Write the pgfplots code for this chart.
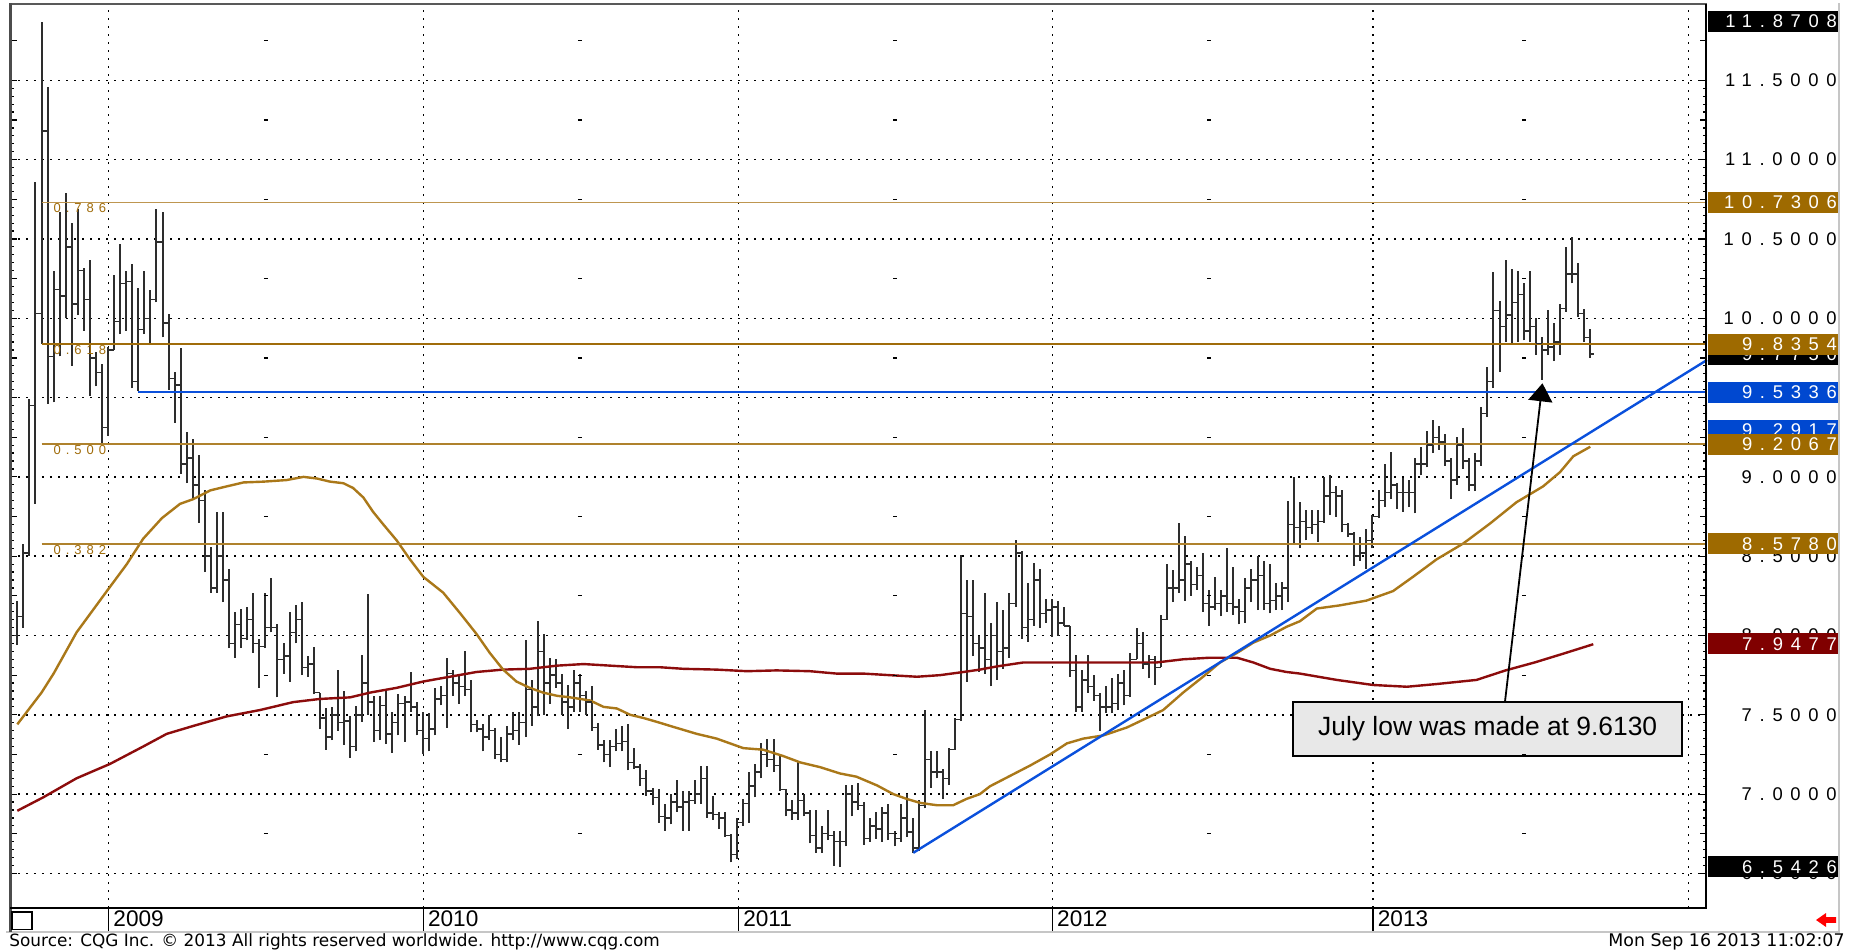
\documentclass[border=0pt]{standalone}
\usepackage{pgfplots}
\pgfplotsset{compat=1.18}
\usepackage{pgfplotstable}
\usepackage{fontspec}
\setmainfont{Liberation Sans}
\newfontfamily\pricefont[LetterSpace=42]{Liberation Sans}
\newfontfamily\fibfont[LetterSpace=38]{Liberation Sans}
\newfontfamily\smallfont{DejaVu Sans}
\usetikzlibrary{arrows.meta}

\definecolor{barcol}{RGB}{45,45,45}
\definecolor{magold}{RGB}{170,120,25}
\definecolor{fibgold}{RGB}{160,108,10}
\definecolor{fiblight}{RGB}{190,150,80}
\definecolor{fibmid}{RGB}{175,130,45}
\definecolor{goldbox}{RGB}{158,106,0}
\definecolor{mared}{RGB}{140,12,12}
\definecolor{redbox}{RGB}{128,0,0}
\definecolor{trendblue}{RGB}{10,80,220}
\definecolor{bluebox}{RGB}{0,72,208}
\definecolor{calloutfill}{RGB}{232,232,232}

\pgfdeclareplotmark{closetick}{\pgfpathmoveto{\pgfpoint{0pt}{0pt}}\pgfpathlineto{\pgfpoint{1.7pt}{0pt}}\pgfusepathqstroke}
\pgfdeclareplotmark{opentick}{\pgfpathmoveto{\pgfpoint{-1.7pt}{0pt}}\pgfpathlineto{\pgfpoint{0pt}{0pt}}\pgfusepathqstroke}
\pgfdeclareplotmark{griddash}{\pgfpathmoveto{\pgfpoint{-1pt}{0pt}}\pgfpathlineto{\pgfpoint{1pt}{0pt}}\pgfusepathqstroke}

\pgfplotstableread{
n o h l c
0 8.00 8.22 7.94 8.12
1 8.12 8.58 8.05 8.52
2 8.52 9.49 8.50 9.45
3 9.45 10.86 8.83 10.03
4 10.03 11.8708 9.84 11.18
5 11.18 11.46 9.46 9.76
6 9.76 10.30 9.47 10.18
7 10.18 10.67 9.76 10.14
8 10.14 10.79 10.00 10.45
9 10.45 10.60 9.70 10.09
10 10.09 10.69 10.02 10.30
11 10.30 10.32 9.92 10.12
12 10.12 10.37 9.51 9.75
13 9.75 9.79 9.57 9.66
14 9.66 9.71 9.21 9.31
15 9.31 9.82 9.26 9.80
16 9.80 10.27 9.80 9.98
17 9.98 10.47 9.90 10.22
18 10.22 10.30 9.92 10.23
19 10.23 10.34 9.56 9.60
20 9.60 10.19 9.54 9.93
21 9.93 10.30 9.90 10.00
22 10.00 10.18 9.83 10.12
23 10.12 10.69 10.10 10.48
24 10.48 10.67 9.88 9.97
25 9.97 10.03 9.55 9.62
26 9.62 9.66 9.34 9.58
27 9.58 9.81 9.02 9.08
28 9.08 9.28 8.96 9.12
29 9.12 9.24 8.86 8.95
30 8.95 9.14 8.71 8.85
31 8.85 8.92 8.40 8.50
32 8.50 8.56 8.27 8.30
33 8.30 8.78 8.27 8.50
34 8.50 8.78 8.21 8.35
35 8.35 8.42 7.92 7.95
36 7.95 8.15 7.86 8.07
37 8.07 8.17 7.92 7.98
38 7.98 8.18 7.97 8.10
39 8.10 8.27 7.89 7.95
40 7.95 7.98 7.67 7.93
41 7.93 8.27 7.92 8.05
42 8.05 8.36 8.02 8.05
43 8.05 8.07 7.61 7.85
44 7.85 7.95 7.76 7.87
45 7.87 8.15 7.71 8.02
46 8.02 8.19 7.95 8.10
47 8.10 8.21 7.75 7.80
48 7.80 7.87 7.74 7.82
49 7.82 7.93 7.63 7.64
50 7.64 7.64 7.41 7.48
51 7.48 7.54 7.28 7.36
52 7.36 7.55 7.34 7.50
53 7.50 7.785 7.40 7.45
54 7.45 7.65 7.31 7.46
55 7.46 7.49 7.23 7.30
56 7.30 7.555 7.27 7.50
57 7.50 7.88 7.455 7.70
58 7.70 8.26 7.50 7.58
59 7.58 7.62 7.33 7.40
60 7.40 7.62 7.34 7.56
61 7.56 7.65 7.315 7.38
62 7.38 7.52 7.26 7.45
63 7.45 7.63 7.37 7.57
64 7.57 7.62 7.33 7.58
65 7.58 7.77 7.52 7.55
66 7.55 7.58 7.37 7.40
67 7.40 7.52 7.25 7.35
68 7.35 7.51 7.27 7.41
69 7.41 7.67 7.37 7.60
70 7.60 7.68 7.56 7.62
71 7.62 7.86 7.42 7.76
72 7.76 7.785 7.62 7.70
73 7.70 7.75 7.57 7.68
74 7.68 7.90 7.62 7.66
75 7.66 7.72 7.39 7.44
76 7.44 7.47 7.39 7.41
77 7.41 7.44 7.27 7.36
78 7.36 7.50 7.34 7.40
79 7.40 7.42 7.22 7.25
80 7.25 7.36 7.20 7.22
81 7.22 7.43 7.20 7.38
82 7.38 7.52 7.34 7.40
83 7.40 7.52 7.31 7.45
84 7.45 7.97 7.36 7.66
85 7.66 7.72 7.43 7.55
86 7.55 8.09 7.49 7.90
87 7.90 8.01 7.50 7.70
88 7.70 7.86 7.57 7.75
89 7.75 7.85 7.67 7.70
90 7.70 7.76 7.50 7.58
91 7.58 7.69 7.41 7.55
92 7.55 7.785 7.52 7.70
93 7.70 7.76 7.52 7.62
94 7.62 7.65 7.50 7.58
95 7.58 7.68 7.40 7.42
96 7.42 7.45 7.28 7.31
97 7.31 7.34 7.20 7.25
98 7.25 7.34 7.17 7.30
99 7.30 7.41 7.27 7.32
100 7.32 7.43 7.27 7.33
101 7.33 7.44 7.15 7.20
102 7.20 7.29 7.16 7.17
103 7.17 7.19 7.05 7.10
104 7.10 7.15 6.99 7.02
105 7.02 7.04 6.93 6.98
106 6.98 7.03 6.82 6.86
107 6.86 6.94 6.77 6.85
108 6.85 7.00 6.81 6.95
109 6.95 7.09 6.89 6.92
110 6.92 7.02 6.77 6.95
111 6.95 7.02 6.77 6.96
112 6.96 7.09 6.94 7.00
113 7.00 7.18 6.94 7.10
114 7.10 7.18 6.85 6.88
115 6.88 6.99 6.84 6.87
116 6.87 6.89 6.78 6.85
117 6.85 6.89 6.73 6.74
118 6.74 6.75 6.57 6.62
119 6.62 6.85 6.59 6.82
120 6.82 6.97 6.80 6.94
121 6.94 7.14 6.82 7.05
122 7.05 7.19 6.98 7.14
123 7.14 7.32 7.10 7.25
124 7.25 7.35 7.17 7.22
125 7.22 7.35 7.14 7.18
126 7.18 7.25 7.02 7.03
127 7.03 7.03 6.86 6.90
128 6.90 6.96 6.84 6.88
129 6.88 7.20 6.84 6.96
130 6.96 7.00 6.86 6.88
131 6.88 6.90 6.69 6.74
132 6.74 6.90 6.63 6.66
133 6.66 6.80 6.63 6.75
134 6.75 6.90 6.71 6.74
135 6.74 6.77 6.55 6.70
136 6.70 6.77 6.5426 6.70
137 6.70 7.06 6.67 7.00
138 7.00 7.06 6.86 6.95
139 6.95 7.07 6.90 6.93
140 6.93 6.95 6.68 6.72
141 6.72 6.85 6.70 6.80
142 6.80 6.89 6.72 6.78
143 6.78 6.92 6.70 6.88
144 6.88 6.94 6.71 6.75
145 6.75 6.77 6.67 6.72
146 6.72 6.94 6.70 6.85
147 6.85 7.00 6.73 6.76
148 6.76 6.85 6.63 6.66
149 6.66 6.96 6.64 6.93
150 6.93 7.53 6.91 7.22
151 7.22 7.27 7.04 7.14
152 7.14 7.27 7.10 7.14
153 7.14 7.16 6.97 7.10
154 7.10 7.29 7.06 7.28
155 7.28 7.48 7.28 7.47
156 7.47 8.51 7.46 8.14
157 8.14 8.35 7.71 8.12
158 8.12 8.35 7.87 7.95
159 7.95 8.00 7.77 7.92
160 7.92 8.27 7.76 7.85
161 7.85 8.08 7.68 8.00
162 8.00 8.21 7.72 7.90
163 7.90 8.16 7.79 7.92
164 7.92 8.27 7.86 8.20
165 8.20 8.60 8.18 8.52
166 8.52 8.53 7.98 8.05
167 8.05 8.33 7.96 8.10
168 8.10 8.46 8.06 8.35
169 8.35 8.42 8.05 8.14
170 8.14 8.23 8.08 8.16
171 8.16 8.23 7.99 8.18
172 8.18 8.22 8.00 8.08
173 8.08 8.18 8.06 8.06
174 8.06 8.06 7.74 7.78
175 7.78 7.88 7.52 7.55
176 7.55 7.78 7.52 7.72
177 7.72 7.88 7.64 7.68
178 7.68 7.75 7.59 7.62
179 7.62 7.64 7.40 7.55
180 7.55 7.68 7.51 7.55
181 7.55 7.73 7.51 7.57
182 7.57 7.76 7.53 7.70
183 7.70 7.78 7.56 7.62
184 7.62 7.89 7.61 7.85
185 7.85 8.05 7.85 7.95
186 7.95 8.02 7.79 7.82
187 7.82 7.88 7.73 7.85
188 7.85 7.87 7.69 7.80
189 7.80 8.13 7.80 8.10
190 8.10 8.45 8.10 8.30
191 8.30 8.41 8.21 8.30
192 8.30 8.71 8.27 8.35
193 8.35 8.63 8.22 8.45
194 8.45 8.47 8.25 8.32
195 8.32 8.43 8.29 8.38
196 8.38 8.52 8.15 8.20
197 8.20 8.29 8.06 8.18
198 8.18 8.37 8.16 8.20
199 8.20 8.29 8.12 8.25
200 8.25 8.55 8.15 8.20
201 8.20 8.43 8.13 8.18
202 8.18 8.23 8.07 8.15
203 8.15 8.36 8.08 8.30
204 8.30 8.42 8.21 8.35
205 8.35 8.50 8.16 8.38
206 8.38 8.47 8.16 8.20
207 8.20 8.45 8.14 8.22
208 8.22 8.33 8.16 8.25
209 8.25 8.34 8.16 8.30
210 8.30 8.85 8.21 8.70
211 8.70 9.00 8.58 8.68
212 8.68 8.84 8.55 8.72
213 8.72 8.79 8.60 8.68
214 8.68 8.79 8.64 8.70
215 8.70 8.79 8.59 8.72
216 8.72 9.00 8.71 8.88
217 8.88 9.01 8.76 8.90
218 8.90 8.94 8.75 8.88
219 8.88 8.92 8.65 8.70
220 8.70 8.71 8.62 8.64
221 8.64 8.65 8.44 8.50
222 8.50 8.62 8.47 8.52
223 8.52 8.67 8.42 8.60
224 8.60 8.76 8.55 8.75
225 8.75 8.92 8.74 8.85
226 8.85 9.08 8.81 8.90
227 8.90 9.16 8.86 8.95
228 8.95 8.96 8.80 8.90
229 8.90 8.99 8.78 8.90
230 8.90 8.98 8.81 8.90
231 8.90 9.12 8.77 9.08
232 9.08 9.19 9.01 9.08
233 9.08 9.29 9.06 9.20
234 9.20 9.36 9.15 9.25
235 9.25 9.32 9.17 9.22
236 9.22 9.27 9.07 9.10
237 9.10 9.12 8.86 8.98
238 8.98 9.25 8.95 9.20
239 9.20 9.31 9.05 9.10
240 9.10 9.12 8.91 8.95
241 8.95 9.15 8.91 9.10
242 9.10 9.44 9.07 9.40
243 9.40 9.69 9.38 9.60
244 9.60 10.29 9.56 10.05
245 10.05 10.11 9.66 9.95
246 9.95 10.37 9.85 10.02
247 10.02 10.31 9.84 10.10
248 10.10 10.30 9.85 10.15
249 10.15 10.22 9.86 9.92
250 9.92 10.30 9.85 9.95
251 9.95 10.00 9.77 9.84
252 9.84 9.88 9.613 9.80
253 9.80 10.05 9.77 9.82
254 9.82 9.97 9.73 9.85
255 9.85 10.09 9.77 10.06
256 10.06 10.45 10.04 10.28
257 10.28 10.51 10.22 10.28
258 10.28 10.35 10.01 10.03
259 10.03 10.06 9.85 9.88
260 9.88 9.93 9.75 9.775
}\ohlc

\newcommand{\plainlabel}[2]{\node[anchor=east, inner sep=0pt, xshift=65pt, font=\pricefont\fontsize{9.2}{10}\selectfont] at (axis cs:279.3,#1) {#2};}
\newcommand{\boxlabel}[3]{\node[anchor=west, inner sep=0pt, xshift=0.5pt, fill=#3, text=white, minimum height=10.6pt, minimum width=65pt, font=\pricefont\fontsize{9.2}{10}\selectfont] at (axis cs:279.3,#1) {\makebox[63.5pt][r]{#2}};}

\begin{document}
\begin{tikzpicture}
\useasboundingbox (0,0) rectangle (925.5pt,475pt);
\fill[white] (0,0) rectangle (925.5pt,475pt);
\begin{axis}[
  at={(5pt,21pt)}, anchor=south west,
  width=848.5pt, height=451.5pt, scale only axis,
  xmin=-1.21, xmax=279.3, ymin=6.282, ymax=11.975,
  clip=false,
  axis line style={draw=none},
  xtick={15.1,67.1,119.2,171.1,224.1,276.2}, xticklabels={},
  xtick style={draw=none},
  xmajorgrids, ymajorgrids,
  ytick={6.5,7,...,11.5}, yticklabels={},
  extra y ticks={6.75,7.25,...,11.75}, extra y tick labels={},
  extra y tick style={grid=none},
  minor y tick num=9,
  tick align=inside,
  major tick length=3.5pt, minor tick length=2pt,
  ytick style={black, line width=0.6pt},
  grid style={black, line width=0.7pt, dash pattern=on 0.9pt off 3.1pt},
]
% grid dashes at half-year positions
\addplot[only marks, mark=griddash, mark options={black, line width=0.6pt}] coordinates {
(41.1,6.75)(41.1,7.25)(41.1,7.75)(41.1,8.25)(41.1,8.75)(41.1,9.25)(41.1,9.75)(41.1,10.25)(41.1,10.75)(41.1,11.25)(41.1,11.75)
(93.0,6.75)(93.0,7.25)(93.0,7.75)(93.0,8.25)(93.0,8.75)(93.0,9.25)(93.0,9.75)(93.0,10.25)(93.0,10.75)(93.0,11.25)(93.0,11.75)
(145.1,6.75)(145.1,7.25)(145.1,7.75)(145.1,8.25)(145.1,8.75)(145.1,9.25)(145.1,9.75)(145.1,10.25)(145.1,10.75)(145.1,11.25)(145.1,11.75)
(197.0,6.75)(197.0,7.25)(197.0,7.75)(197.0,8.25)(197.0,8.75)(197.0,9.25)(197.0,9.75)(197.0,10.25)(197.0,10.75)(197.0,11.25)(197.0,11.75)
(249.1,6.75)(249.1,7.25)(249.1,7.75)(249.1,8.25)(249.1,8.75)(249.1,9.25)(249.1,9.75)(249.1,10.25)(249.1,10.75)(249.1,11.25)(249.1,11.75)
};
% OHLC bars: high-low range
\addplot[draw=none, mark=none, error bars/.cd, y dir=plus, y explicit, error mark=none,
  error bar style={draw=barcol, line width=1pt}]
  table[x=n, y=l, y error expr=\thisrow{h}-\thisrow{l}] {\ohlc};
% open and close ticks
\addplot[only marks, mark=opentick, mark options={draw=barcol, line width=0.7pt}] table[x=n, y=o] {\ohlc};
\addplot[only marks, mark=closetick, mark options={draw=barcol, line width=0.7pt}] table[x=n, y=c] {\ohlc};
% moving averages
\addplot[mared, line width=1.2pt] coordinates {
(0,6.895)(4.3,6.98)(9.8,7.10)(15.3,7.19)(20.8,7.30)(24.7,7.38)(29.1,7.43)(34.6,7.49)(40.1,7.53)(45.6,7.58)(50,7.60)(55,7.61)(58.3,7.64)(62.7,7.67)(67.1,7.71)(71.5,7.74)(75.9,7.77)(80.3,7.785)(84.7,7.79)(89.2,7.81)(93.6,7.82)(98,7.81)(102.4,7.80)(106.2,7.80)(110.1,7.79)(115.6,7.785)(120.6,7.775)(125.5,7.78)(131,7.775)(135.4,7.76)(139.8,7.76)(144.2,7.75)(148.7,7.74)(152.5,7.75)(156.4,7.77)(159.1,7.785)(161.9,7.805)(166.3,7.83)(171.8,7.83)(177.3,7.83)(182.8,7.83)(188.3,7.83)(192.7,7.85)(197.1,7.86)(201.6,7.86)(204.3,7.83)(207.1,7.79)(209.8,7.77)(212,7.76)(218.1,7.72)(224.1,7.688)(229.7,7.677)(234.6,7.694)(241.2,7.72)(246,7.78)(250.8,7.83)(255.5,7.885)(260.5,7.945)
};
\addplot[magold, line width=1.2pt] coordinates {
(0,7.44)(4.0,7.64)(6,7.76)(9.8,8.02)(14.8,8.28)(18.1,8.45)(20.8,8.61)(23.9,8.74)(26.9,8.83)(29.1,8.86)(31.9,8.915)(34.6,8.94)(37.4,8.965)(40.7,8.97)(44.5,8.98)(47.3,9.0)(49.5,8.99)(51.7,8.97)(53.9,8.96)(55.5,8.93)(57.2,8.87)(58.8,8.78)(60.5,8.70)(62.7,8.60)(64.9,8.48)(67.1,8.37)(70.4,8.27)(73.2,8.14)(75.9,8.01)(78.1,7.89)(80.3,7.785)(82.5,7.71)(84.7,7.67)(86.9,7.64)(89.2,7.62)(91.4,7.61)(94.7,7.59)(96.9,7.55)(99.1,7.54)(101.3,7.50)(103.5,7.48)(106.2,7.45)(107.9,7.43)(112.3,7.38)(115.6,7.35)(120,7.29)(123.3,7.28)(126.6,7.24)(129.4,7.20)(132.7,7.17)(136,7.13)(138.7,7.11)(142.1,7.055)(144.8,7.00)(147,6.97)(149.2,6.945)(152,6.93)(154.7,6.93)(156.9,6.97)(159.1,7.00)(160.8,7.05)(164.1,7.115)(167.4,7.18)(170.7,7.25)(173.5,7.32)(176.2,7.35)(179.5,7.37)(183.4,7.42)(186.7,7.48)(189.4,7.53)(192.7,7.64)(196,7.74)(198.8,7.83)(201.6,7.89)(204.3,7.955)(207.1,8.00)(209.8,8.055)(212,8.09)(214.8,8.17)(218.6,8.19)(223,8.22)(227.4,8.28)(230.7,8.37)(234.6,8.48)(239,8.58)(243.4,8.705)(247.8,8.84)(252.2,8.94)(255,9.03)(257.2,9.13)(260,9.19)
};
% Fibonacci levels
\addplot[fiblight, line width=0.8pt] coordinates {(4,10.7306) (279.3,10.7306)};
\addplot[fibgold, line width=1pt] coordinates {(4,9.8354) (279.3,9.8354)};
\addplot[fibmid, line width=0.8pt] coordinates {(4,9.2067) (279.3,9.2067)};
\addplot[fibmid, line width=0.8pt] coordinates {(4,8.578) (279.3,8.578)};
% blue lines
\addplot[trendblue, line width=0.9pt] coordinates {(20,9.5336) (279.3,9.5336)};
\addplot[trendblue, line width=1.2pt] coordinates {(148.1,6.63) (279.3,9.737)};
% fib labels
\node[anchor=north west, inner sep=0pt, yshift=-0.5pt, text=fibgold, font=\fibfont\fontsize{6.5}{7}\selectfont] at (axis cs:5.95,10.7306) {0.786};
\node[anchor=north west, inner sep=0pt, yshift=-0.5pt, text=fibgold, font=\fibfont\fontsize{6.5}{7}\selectfont] at (axis cs:5.95,9.8354) {0.618};
\node[anchor=north west, inner sep=0pt, yshift=-0.5pt, text=fibgold, font=\fibfont\fontsize{6.5}{7}\selectfont] at (axis cs:5.95,9.2067) {0.500};
\node[anchor=north west, inner sep=0pt, yshift=-0.5pt, text=fibgold, font=\fibfont\fontsize{6.5}{7}\selectfont] at (axis cs:5.95,8.578) {0.382};
% callout
\draw[black, line width=0.9pt, -{Triangle[width=12pt,length=9pt]}] (axis cs:245.9,7.581) -- (axis cs:252.1,9.59);
\draw[fill=calloutfill, draw=black, line width=1pt] (axis cs:210.9,7.581) rectangle (axis cs:275.2,7.240);
\node[inner sep=0pt, font=\fontsize{13.2}{15}\selectfont] at (axis cs:243.05,7.41) {July low was made at 9.6130};
% year row
\foreach \yr/\xx in {2009/15.1,2010/67.1,2011/119.2,2012/171.1,2013/224.1}{
  \edef\temp{\noexpand\draw[black, line width=0.6pt] (axis cs:\xx,6.282) -- ++(0pt,-11.5pt);
  \noexpand\node[anchor=west, inner sep=0pt, xshift=2.2pt, yshift=-5.6pt, font=\noexpand\fontsize{11.3}{12}\noexpand\selectfont] at (axis cs:\xx,6.282) {\yr};}
  \temp
}
% price scale labels
\plainlabel{11.5}{11.5000}
\plainlabel{11.0}{11.0000}
\plainlabel{10.5}{10.5000}
\plainlabel{10.0}{10.0000}
\plainlabel{9.0}{9.0000}
\plainlabel{8.5}{8.5000}
\plainlabel{8.0}{8.0000}
\plainlabel{7.5}{7.5000}
\plainlabel{7.0}{7.0000}
\plainlabel{6.5}{6.5000}
\boxlabel{11.8708}{11.8708}{black}
\boxlabel{10.7306}{10.7306}{goldbox}
\boxlabel{9.775}{9.7750}{black}
\boxlabel{9.8354}{9.8354}{goldbox}
\boxlabel{9.5336}{9.5336}{bluebox}
\boxlabel{9.2917}{9.2917}{bluebox}
\boxlabel{9.2067}{9.2067}{goldbox}
\boxlabel{8.578}{8.5780}{goldbox}
\boxlabel{7.9477}{7.9477}{redbox}
\boxlabel{6.5426}{6.5426}{black}
\end{axis}
% frame
\draw[gray!45, line width=0.6pt] (3pt,9pt) -- (919.5pt,9pt) -- (919.5pt,473.5pt);
\draw[black!65, line width=0.9pt] (5pt,472.8pt) -- (853.5pt,472.8pt);
\draw[black!70, line width=1.4pt] (5.1pt,9pt) -- (5.1pt,473.3pt);
\draw[black, line width=1pt] (853pt,21pt) -- (853pt,472.8pt);
\draw[black, line width=1pt] (5pt,21pt) -- (853.5pt,21pt);
\draw[black, line width=0.7pt] (6pt,10.2pt) rectangle (16pt,19pt);
% footer
\node[anchor=west, inner sep=0pt, font=\smallfont\fontsize{8.45}{9.5}\selectfont] at (4.5pt,4pt) {Source: CQG Inc. © 2013 All rights reserved worldwide. http://www.cqg.com};
\node[anchor=east, inner sep=0pt, font=\smallfont\fontsize{8.7}{9.5}\selectfont] at (922.5pt,4pt) {Mon Sep 16 2013 11:02:07};
\fill[red] (908pt,15pt) -- (913pt,18.5pt) -- (913pt,16.4pt) -- (918pt,16.4pt) -- (918pt,13.6pt) -- (913pt,13.6pt) -- (913pt,11.5pt) -- cycle;
\end{tikzpicture}
\end{document}
